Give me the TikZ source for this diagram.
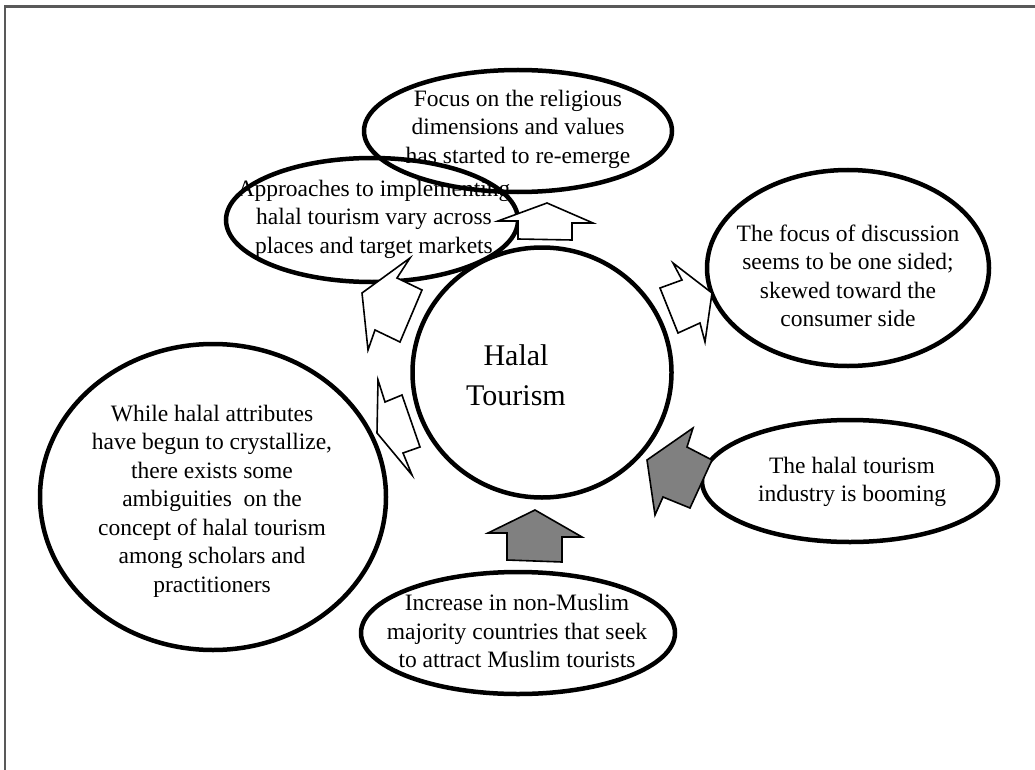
\documentclass[tikz,border=0pt]{standalone}
\usepackage{fontspec}
\setmainfont{Liberation Serif}
\usetikzlibrary{shapes.geometric}
\begin{document}
\begin{tikzpicture}[x=1pt,y=-1pt,
  bubble/.style={draw=black,line width=4.5pt,ellipse,inner sep=0pt},
  txt/.style={align=center,inner sep=0pt,font=\fontsize{23.5}{28.5}\selectfont},
  blk/.style={draw=black,line width=1.6pt,line join=miter},
  hollow/.style={blk,fill=white},
  solid/.style={blk,fill=black!50}]
\useasboundingbox (0,0) rectangle (1035,770);
\draw[black!65,line width=2.5pt] (5,770) -- (5,6.5) -- (1035,6.5);
% ellipses
\node[bubble,minimum width=308pt,minimum height=122pt] (e1) at (518,131) {};
\node[bubble,minimum width=292pt,minimum height=124pt] (e2) at (372,220) {};
\node[bubble,minimum width=282pt,minimum height=196pt] (e3) at (848,268) {};
\node[bubble,minimum width=346pt,minimum height=306pt] (e4) at (213,497) {};
\node[bubble,minimum width=296pt,minimum height=122pt] (e5) at (850,481) {};
\node[bubble,minimum width=314pt,minimum height=122pt] (e6) at (518,633) {};
\node[bubble,minimum width=259pt,minimum height=250pt] (c) at (542,372.5) {};
% texts
\node[txt] (t1) at (518,129) {Focus on the religious\\dimensions and values\\has started to re-emerge};
\node[txt] (t2) at (374,219) {Approaches to implementing\\halal tourism vary across\\places and target markets};
\node[txt] (t3) at (848,276) {The focus of discussion\\seems to be one sided;\\skewed toward the\\consumer side};
\node[txt] (t4) at (212,501) {While halal attributes\\have begun to crystallize,\\there exists some\\ambiguities\ \ on the\\concept of halal tourism\\among scholars and\\practitioners};
\node[txt] (t5) at (852,482) {The halal tourism\\industry is booming};
\node[txt] (t6) at (517,631) {Increase in non-Muslim\\majority countries that seek\\to attract Muslim tourists};
\node[align=center,inner sep=0pt,font=\fontsize{30}{40}\selectfont] (tc) at (516,375) {Halal\\Tourism};
% block arrows
\draw[hollow] (547,203) -- (498,221) -- (518,221) -- (518,239) -- (572,240) -- (572,223) -- (593,223) -- cycle;
\draw[hollow] (362,293) -- (410,258) -- (397,278) -- (422,290) -- (400,342) -- (375,330) -- (368,350) -- cycle;
\draw[hollow] (712,293) -- (673,263) -- (682,280) -- (660,288) -- (678,333) -- (700,323) -- (705,342) -- cycle;
\draw[hollow] (377,433) -- (378,380) -- (385,402) -- (402,395) -- (420,447) -- (403,453) -- (412,475) -- cycle;
\draw[solid] (647,460) -- (693,428) -- (687,447) -- (712,460) -- (690,508) -- (663,497) -- (655,515) -- cycle;
\draw[solid] (535,510) -- (488,533) -- (507,533) -- (507,560) -- (562,562) -- (562,537) -- (582,537) -- cycle;
\end{tikzpicture}
\end{document}
